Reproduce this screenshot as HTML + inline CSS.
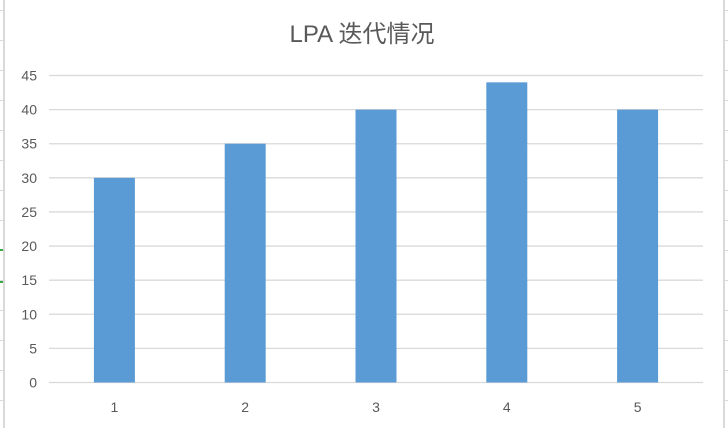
<!DOCTYPE html>
<html><head><meta charset="utf-8"><style>
body{margin:0;background:#fff;width:728px;height:430px;overflow:hidden;font-family:"Liberation Sans","Noto Sans CJK SC",sans-serif}
</style></head><body>
<svg width="728" height="430" id="c">
<rect x="3" y="0" width="2" height="428" fill="#d9d9d9"/>
<rect x="723" y="0" width="2" height="428" fill="#d9d9d9"/>
<g id="edge"></g>
<rect x="0" y="249" width="3" height="2" fill="#3aa845"/>
<rect x="0" y="281" width="3" height="2" fill="#3aa845"/>
<text x="362" y="42" text-anchor="middle" font-size="24" fill="#595959">LPA 迭代情况</text>
<g id="grid"></g>
<g id="bars"></g>
<g id="labels"></g>
</svg>
<script>
const categories=["1","2","3","4","5"];
const values=[30,35,40,44,40];
const yTicks=[0,5,10,15,20,25,30,35,40,45];
const NS="http://www.w3.org/2000/svg";
const x0=49,x1=703,yBase=382.5,yTop=75.5,yMax=45;
const y=v=>yBase-(v/yMax)*(yBase-yTop);
const band=(x1-x0)/categories.length;
const xc=i=>x0+band*(i+0.5);
function mk(t,a,p){const e=document.createElementNS(NS,t);for(const k in a)e.setAttribute(k,a[k]);p.appendChild(e);return e;}
const edge=document.getElementById('edge');
for(let yy=10;yy<430;yy+=30){
 const a=mk('rect',{x:0,y:yy,width:3,height:1,fill:'#d9d9d9'},edge);
 
 
 const b=mk('rect',{x:725,y:yy,width:3,height:1,fill:'#d9d9d9'},edge);
 
 
}
const grid=document.getElementById('grid'),labels=document.getElementById('labels'),bars=document.getElementById('bars');
yTicks.forEach(v=>{
 const l=mk('line',{x1:x0,x2:x1,y1:y(v),y2:y(v),stroke:'#d9d9d9','stroke-width':1.3},grid);
 
 
 const t=mk('text',{x:37,y:y(v)+5,'text-anchor':'end','font-size':14,fill:'#595959'},labels);
 t.textContent=v;
 
 
});
categories.forEach((c,i)=>{
 const w=41;
 const r=mk('rect',{x:xc(i)-w/2,y:y(values[i]),width:w,height:yBase-y(values[i]),fill:'#5b9bd5'},bars);
 
 
 const t=mk('text',{x:xc(i),y:412,'text-anchor':'middle','font-size':14,fill:'#595959'},labels);
 t.textContent=c;
 
 
});
</script>
</body></html>
